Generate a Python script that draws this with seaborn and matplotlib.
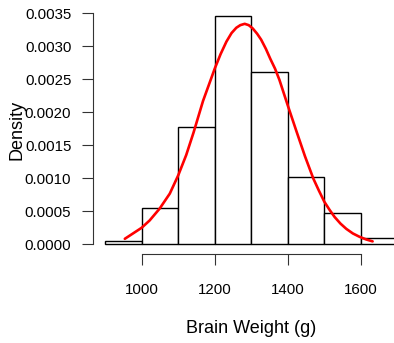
import numpy as np
import matplotlib
matplotlib.use("Agg")
import matplotlib.pyplot as plt
import seaborn as sns

# Histogram bins (brain weight, g) and counts per bin
bin_edges = [900, 1000, 1100, 1200, 1300, 1400, 1500, 1600, 1700]
bin_counts = [1, 13, 42, 82, 62, 24, 11, 2]
bin_mids = [950, 1050, 1150, 1250, 1350, 1450, 1550, 1650]

# Red density curve
curve_x = [954, 1000, 1022, 1049, 1077, 1100, 1122, 1142, 1168, 1185, 1200,
           1216, 1232, 1246, 1259, 1270, 1282, 1293, 1304, 1316, 1327, 1340,
           1352, 1365, 1377, 1400, 1423, 1447, 1470, 1485, 1500, 1514, 1528,
           1544, 1560, 1578, 1596, 1614, 1632]
curve_y = [0.000079, 0.000246, 0.000358, 0.000535, 0.000764, 0.00104, 0.00135,
           0.00169, 0.00217, 0.00243, 0.00266, 0.00288, 0.00307, 0.00320,
           0.00328, 0.00332, 0.00334, 0.00332, 0.00327, 0.00319, 0.00310,
           0.00296, 0.00281, 0.00266, 0.00249, 0.00210, 0.00172, 0.00133,
           0.00099, 0.00081, 0.00064, 0.00052, 0.00041, 0.00031, 0.00023,
           0.00016, 0.00011, 0.00007, 0.00004]

x_ticks = [1000, 1200, 1400, 1600]
y_ticks = [0.0, 0.0005, 0.0010, 0.0015, 0.0020, 0.0025, 0.0030, 0.0035]

sns.set_style("white")
plt.rcParams['font.family'] = ['Liberation Sans', 'DejaVu Sans']
plt.rcParams['text.color'] = 'black'
plt.rcParams['axes.labelcolor'] = 'black'
plt.rcParams['xtick.color'] = 'black'
plt.rcParams['ytick.color'] = 'black'

fig = plt.figure(figsize=(3.94, 3.43), dpi=100)
ax = fig.add_axes([0.237, 0.2586, 0.8015, 0.7219])

sns.histplot(x=bin_mids, weights=bin_counts, bins=bin_edges, stat='density',
             color='white', edgecolor='black', linewidth=1.0, alpha=1, ax=ax)
sns.lineplot(x=curve_x, y=curve_y, color='red', linewidth=1.9, ax=ax)

ax.set_xlim(868, 1732)
ax.set_ylim(-0.000156, 0.0036)

ax.set_xticks(x_ticks)
ax.set_yticks(y_ticks)
ax.set_yticklabels([f"{v:.4f}" for v in y_ticks])

for side in ['top', 'right']:
    ax.spines[side].set_visible(False)
ax.spines['left'].set_bounds(0, 0.0035)
ax.spines['bottom'].set_bounds(1000, 1600)
for side in ['left', 'bottom']:
    ax.spines[side].set_linewidth(0.8)
    ax.spines[side].set_color('#333333')

ax.tick_params(axis='both', direction='out', length=7.9, width=0.8,
               color='#333333', labelcolor='black', labelsize=10.8,
               left=True, bottom=True)
ax.tick_params(axis='y', pad=8)
ax.tick_params(axis='x', pad=13)

ax.set_xlabel("Brain Weight (g)", fontsize=13, color='black')
ax.set_ylabel("Density", fontsize=13, color='black')
ax.xaxis.set_label_coords(0.5, -0.265)
ax.yaxis.set_label_coords(-0.215, 0.502)

fig.savefig("out.png", dpi=100)
